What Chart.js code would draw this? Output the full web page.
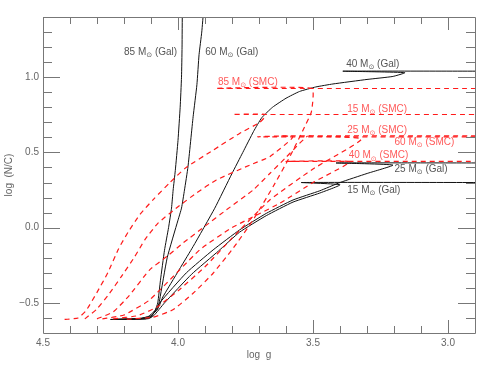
<!DOCTYPE html>
<html>
<head>
<meta charset="utf-8">
<script src="https://cdn.jsdelivr.net/npm/chart.js@4.4.1/dist/chart.umd.min.js"></script>
<style>
  html, body { margin: 0; background: #fff; }
  #wrap { width: 491px; height: 368px; }
</style>
</head>
<body>
<div id="wrap"><canvas id="chart"></canvas></div>
<script>
// Galactic tracks (solid black): log g and log(N/C)
const gal85LogG = [4.25, 4.15, 4.11, 4.085, 4.075, 4.065, 4.05, 4.035, 4.024, 4.018, 4.01, 4.0, 3.992, 3.987, 3.985, 3.984];
const gal85NC   = [-0.61, -0.605, -0.59, -0.55, -0.50, -0.35, -0.15, 0.0, 0.13, 0.25, 0.38, 0.58, 0.80, 1.0, 1.2, 1.45];

const gal60LogG = [4.25, 4.14, 4.10, 4.075, 4.068, 4.04, 4.0, 3.987, 3.976, 3.963, 3.944, 3.93, 3.922, 3.912, 3.905];
const gal60NC   = [-0.61, -0.605, -0.585, -0.54, -0.48, -0.2, 0.05, 0.13, 0.25, 0.405, 0.737, 0.95, 1.15, 1.3, 1.45];

const gal40LogG = [4.23, 4.12, 4.10, 4.07, 4.056, 3.944, 3.864, 3.80, 3.76, 3.72, 3.69, 3.65, 3.60, 3.55, 3.49, 3.426, 3.30, 3.204, 3.16, 3.389, 2.85];
const gal40NC   = [-0.61, -0.605, -0.59, -0.52, -0.46, -0.125, 0.129, 0.36, 0.50, 0.64, 0.73, 0.80, 0.86, 0.905, 0.935, 0.955, 0.985, 1.005, 1.03, 1.04, 1.04];

const gal25LogG = [4.24, 4.12, 4.10, 4.068, 3.969, 3.87, 3.772, 3.673, 3.574, 3.475, 3.40, 3.30, 3.204, 3.414, 2.85];
const gal25NC   = [-0.61, -0.605, -0.595, -0.50, -0.30, -0.148, -0.015, 0.095, 0.184, 0.245, 0.30, 0.36, 0.416, 0.43, 0.43];

const gal15LogG = [4.22, 4.11, 4.09, 4.05, 3.95, 3.85, 3.772, 3.673, 3.574, 3.475, 3.40, 3.543, 2.85];
const gal15NC   = [-0.61, -0.605, -0.585, -0.50, -0.31, -0.155, -0.03, 0.08, 0.17, 0.23, 0.285, 0.30, 0.30];

// SMC tracks (dashed red)
const smc15LogG = [4.42, 4.37, 4.34, 4.30, 4.26, 4.22, 4.185, 4.14, 4.09, 4.03, 3.97, 3.87, 3.772, 3.697, 3.673, 3.796, 2.85];
const smc15NC   = [-0.61, -0.60, -0.55, -0.43, -0.30, -0.14, -0.03, 0.09, 0.19, 0.30, 0.40, 0.515, 0.626, 0.70, 0.752, 0.752, 0.752];

const smc25LogG = [4.345, 4.30, 4.255, 4.21, 4.16, 4.123, 4.074, 4.0, 3.932, 3.858, 3.734, 3.66, 3.574, 3.704, 2.85];
const smc25NC   = [-0.606, -0.54, -0.44, -0.325, -0.192, -0.081, 0.03, 0.139, 0.23, 0.317, 0.416, 0.472, 0.604, 0.604, 0.604];

const smcXLogG  = [4.30, 4.24, 4.18, 4.105, 4.04, 3.98, 3.90, 3.821, 3.722, 3.66, 3.604, 3.55, 3.52];
const smcXNC    = [-0.606, -0.56, -0.45, -0.28, -0.19, -0.10, 0.01, 0.118, 0.25, 0.36, 0.46, 0.56, 0.61];

const smc40LogG = [4.28, 4.2, 4.105, 3.92, 3.80, 3.623, 3.5, 3.364, 3.599, 2.85];
const smc40NC   = [-0.606, -0.58, -0.48, -0.148, 0.0, 0.162, 0.30, 0.438, 0.44, 0.44];

const smc60LogG = [4.24, 4.15, 4.08, 4.0, 3.9, 3.8, 3.66, 3.5, 3.321, 3.623, 2.85];
const smc60NC   = [-0.606, -0.585, -0.53, -0.42, -0.26, -0.07, 0.184, 0.39, 0.59, 0.61, 0.61];

const smc85LogG = [4.19, 4.093, 4.019, 3.944, 3.87, 3.796, 3.722, 3.648, 3.586, 3.537, 3.506, 3.504, 3.858, 2.85];
const smc85NC   = [-0.608, -0.595, -0.546, -0.436, -0.303, -0.137, 0.051, 0.272, 0.471, 0.648, 0.77, 0.925, 0.925, 0.925];

// axis ticks
const xMajorTicks = [4.5, 4.0, 3.5, 3.0];
const xTickLabels = ['4.5', '4.0', '3.5', '3.0'];
const xMinorTicks = [4.4, 4.3, 4.2, 4.1, 3.9, 3.8, 3.7, 3.6, 3.4, 3.3, 3.2, 3.1];
const yMajorTicks = [-0.5, 0.0, 0.5, 1.0];
const yTickLabels = ['\u22120.5', '0.0', '0.5', '1.0'];
const yMinorTicks = [-0.6, -0.4, -0.3, -0.2, -0.1, 0.1, 0.2, 0.3, 0.4, 0.6, 0.7, 0.8, 0.9, 1.1, 1.2, 1.3];

// track labels: mass, population, anchor (log g, log N/C)
const trackLabels = [
  { mass: '85', pop: 'Gal', g: 4.20,  nc: 1.168, smc: false },
  { mass: '60', pop: 'Gal', g: 3.899, nc: 1.168, smc: false },
  { mass: '40', pop: 'Gal', g: 3.377, nc: 1.086, smc: false },
  { mass: '85', pop: 'SMC', g: 3.852, nc: 0.969, smc: true },
  { mass: '15', pop: 'SMC', g: 3.373, nc: 0.788, smc: true },
  { mass: '25', pop: 'SMC', g: 3.373, nc: 0.648, smc: true },
  { mass: '60', pop: 'SMC', g: 3.198, nc: 0.566, smc: true },
  { mass: '40', pop: 'SMC', g: 3.368, nc: 0.478, smc: true },
  { mass: '25', pop: 'Gal', g: 3.198, nc: 0.387, smc: false },
  { mass: '15', pop: 'Gal', g: 3.373, nc: 0.246, smc: false }
];

function toPoints(xs, ys) {
  return xs.map((x, i) => ({ x: x, y: ys[i] }));
}

function galTrack(xs, ys) {
  return { data: toPoints(xs, ys), borderColor: '#111', borderWidth: 1, pointRadius: 0, tension: 0.15 };
}

function smcTrack(xs, ys) {
  return { data: toPoints(xs, ys), borderColor: '#ff1a1a', borderWidth: 1.2, borderDash: [5, 4], pointRadius: 0, tension: 0.15 };
}

const FONT = '10px "Liberation Sans", Arial, sans-serif';

const framePlugin = {
  id: 'frame',
  afterDatasetsDraw(chart) {
    const ctx = chart.ctx;
    const xs = chart.scales.x, ys = chart.scales.y;
    const a = chart.chartArea;

    // track labels
    ctx.save();
    ctx.textBaseline = 'middle';
    trackLabels.forEach(l => {
      let px = xs.getPixelForValue(l.g);
      const py = ys.getPixelForValue(l.nc);
      ctx.fillStyle = l.smc ? '#ff5a5a' : '#555';
      ctx.font = FONT;
      const first = l.mass + ' M';
      ctx.fillText(first, px, py);
      px += ctx.measureText(first).width;
      ctx.font = '7px "DejaVu Sans", sans-serif';
      ctx.fillText('\u2299', px, py + 3);
      px += ctx.measureText('\u2299').width;
      ctx.font = FONT;
      ctx.fillText(' (' + l.pop + ')', px, py);
    });
    ctx.restore();

    // frame and inward ticks
    ctx.save();
    ctx.strokeStyle = '#777';
    ctx.lineWidth = 1;
    ctx.beginPath();
    ctx.rect(Math.round(a.left) + 0.5, Math.round(a.top) + 0.5, Math.round(a.right - a.left), Math.round(a.bottom - a.top));
    const line = (x1, y1, x2, y2) => { ctx.moveTo(x1, y1); ctx.lineTo(x2, y2); };
    xMajorTicks.forEach(v => {
      const p = Math.round(xs.getPixelForValue(v)) + 0.5;
      line(p, a.bottom, p, a.bottom - 13);
      line(p, a.top, p, a.top + 13);
    });
    xMinorTicks.forEach(v => {
      const p = Math.round(xs.getPixelForValue(v)) + 0.5;
      line(p, a.bottom, p, a.bottom - 7);
      line(p, a.top, p, a.top + 7);
    });
    yMajorTicks.forEach(v => {
      const p = Math.round(ys.getPixelForValue(v)) + 0.5;
      line(a.left, p, a.left + 17, p);
      line(a.right, p, a.right - 17, p);
    });
    yMinorTicks.forEach(v => {
      const p = Math.round(ys.getPixelForValue(v)) + 0.5;
      line(a.left, p, a.left + 9, p);
      line(a.right, p, a.right - 9, p);
    });
    ctx.stroke();

    // tick labels and axis titles
    ctx.fillStyle = '#666';
    ctx.font = FONT;
    ctx.textAlign = 'center';
    ctx.textBaseline = 'middle';
    xMajorTicks.forEach((v, i) => {
      ctx.fillText(xTickLabels[i], xs.getPixelForValue(v), a.bottom + 10);
    });
    ctx.textAlign = 'right';
    yMajorTicks.forEach((v, i) => {
      ctx.fillText(yTickLabels[i], a.left - 4, ys.getPixelForValue(v));
    });
    ctx.textAlign = 'center';
    ctx.fillText('log  g', (a.left + a.right) / 2, a.bottom + 22);
    ctx.translate(9, (a.top + a.bottom) / 2);
    ctx.rotate(-Math.PI / 2);
    ctx.fillText('log  (N/C)', 0, 0);
    ctx.restore();
  }
};

new Chart(document.getElementById('chart').getContext('2d'), {
  type: 'line',
  data: {
    datasets: [
      smcTrack(smc15LogG, smc15NC),
      smcTrack(smc25LogG, smc25NC),
      smcTrack(smcXLogG, smcXNC),
      smcTrack(smc40LogG, smc40NC),
      smcTrack(smc60LogG, smc60NC),
      smcTrack(smc85LogG, smc85NC),
      galTrack(gal85LogG, gal85NC),
      galTrack(gal60LogG, gal60NC),
      galTrack(gal40LogG, gal40NC),
      galTrack(gal25LogG, gal25NC),
      galTrack(gal15LogG, gal15NC)
    ]
  },
  options: {
    responsive: true,
    maintainAspectRatio: false,
    animation: false,
    layout: { padding: { left: 43, right: 16, top: 17, bottom: 35 } },
    plugins: { legend: { display: false }, tooltip: { enabled: false } },
    scales: {
      x: { type: 'linear', reverse: true, min: 2.9, max: 4.5, display: false },
      y: { type: 'linear', min: -0.7, max: 1.4, display: false }
    }
  },
  plugins: [framePlugin]
});
</script>
</body>
</html>
